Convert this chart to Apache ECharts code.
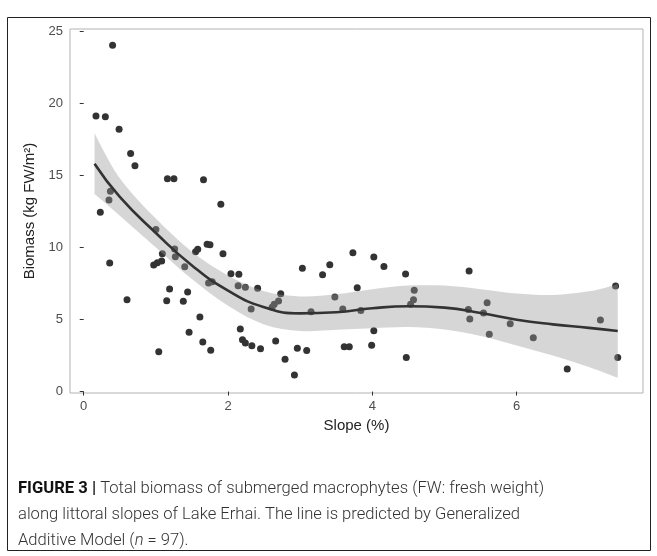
<!DOCTYPE html>
<html>
<head>
<meta charset="utf-8">
<script src="https://cdn.jsdelivr.net/npm/echarts@6/dist/echarts.min.js"></script>
<style>
  html, body { margin: 0; padding: 0; background: #fff; }
  #chart { width: 657px; height: 556px; }
</style>
</head>
<body>
<div id="chart"></div>
<script>
// observed points (slope %, biomass kg FW/m2)
const slope = [
  0.17, 0.30, 0.40, 0.49, 0.65, 0.71, 1.16, 1.25, 1.66, 1.90,
  0.37, 0.35, 0.23, 1.00, 1.09, 0.36, 0.97, 1.02, 1.08, 1.19,
  0.60, 1.15, 1.04, 1.26, 1.27, 1.40, 1.55, 1.58, 1.71, 1.75,
  1.93, 1.73, 1.78, 2.04, 2.15, 2.14, 2.24, 2.41, 1.44, 1.38,
  2.32, 1.61, 1.46, 2.17, 1.65, 2.20, 2.24, 2.33, 2.45, 1.76,
  2.73, 2.70, 2.64, 2.61, 3.03, 3.31, 3.41, 3.73, 3.79, 3.48,
  3.15, 3.59, 2.66, 2.96, 3.09, 2.79, 2.92, 3.61, 3.68, 4.02,
  4.16, 4.46, 4.58, 4.57, 4.53, 3.84, 4.02, 3.99, 4.47, 5.34,
  5.59, 5.33, 5.54, 5.35, 5.91, 5.62, 6.23, 7.37, 7.16, 7.40,
  6.70
];
const biomass = [
  19.11, 19.06, 24.03, 18.19, 16.52, 15.66, 14.76, 14.76, 14.69, 12.99,
  13.89, 13.28, 12.43, 11.25, 9.56, 8.91, 8.78, 8.94, 9.05, 7.11,
  6.37, 6.30, 2.77, 9.89, 9.35, 8.66, 9.70, 9.87, 10.21, 10.19,
  9.56, 7.53, 7.62, 8.18, 8.13, 7.34, 7.23, 7.16, 6.90, 6.26,
  5.73, 5.17, 4.11, 4.34, 3.44, 3.60, 3.37, 3.18, 2.97, 2.86,
  6.79, 6.28, 6.05, 5.84, 8.55, 8.10, 8.80, 9.63, 7.20, 6.56,
  5.54, 5.73, 3.51, 3.00, 2.84, 2.24, 1.15, 3.11, 3.11, 9.33,
  8.68, 8.15, 7.02, 6.37, 6.05, 5.63, 4.22, 3.21, 2.37, 8.36,
  6.16, 5.70, 5.45, 5.03, 4.71, 3.97, 3.74, 7.32, 4.96, 2.37,
  1.56
];

// GAM fit and confidence band
const fitSlope = [0.15, 0.5, 1.0, 1.5, 2.0, 2.5, 3.0, 3.5, 4.0, 4.5, 5.0, 5.5, 6.0, 6.5, 7.0, 7.4];
const fitBiomass = [15.8, 13.5, 11.0, 8.75, 7.0, 5.85, 5.42, 5.5, 5.78, 5.92, 5.82, 5.45, 4.98, 4.66, 4.42, 4.2];
const fitUpper = [17.9, 14.8, 12.0, 9.7, 8.05, 6.95, 6.6, 6.75, 7.1, 7.35, 7.35, 7.1, 6.8, 6.7, 6.95, 7.45];
const fitLower = [13.7, 12.2, 10.0, 7.8, 5.95, 4.65, 4.2, 4.28, 4.4, 4.48, 4.3, 3.85, 3.2, 2.5, 1.7, 0.95];

const xTicks = [0, 2, 4, 6];
const yTicks = [0, 5, 10, 15, 20, 25];

const chart = echarts.init(document.getElementById("chart"));

const labelStyle = { color: "#4d4d4d", fontSize: 13, fontFamily: "Liberation Sans" };
const tickStyle = { show: true, length: 4, lineStyle: { color: "#333", width: 1 } };

// bezier segments through pixel points (catmull-rom style)
function smoothSegs(pts) {
  let d = "";
  const n = pts.length;
  for (let i = 0; i < n - 1; i++) {
    const p0 = pts[Math.max(i - 1, 0)];
    const p1 = pts[i];
    const p2 = pts[i + 1];
    const p3 = pts[Math.min(i + 2, n - 1)];
    const c1 = [p1[0] + (p2[0] - p0[0]) / 6, p1[1] + (p2[1] - p0[1]) / 6];
    const c2 = [p2[0] - (p3[0] - p1[0]) / 6, p2[1] - (p3[1] - p1[1]) / 6];
    d += " C" + c1.join(" ") + " " + c2.join(" ") + " " + p2.join(" ");
  }
  return d;
}

const option = {
  backgroundColor: "#fff",
  animation: false,
  grid: {
    left: 70,
    right: 14,
    top: 29,
    bottom: 163,
    show: true,
    borderColor: "#b3b3b3",
    borderWidth: 1,
  },
  xAxis: {
    type: "value",
    min: -0.19,
    max: 7.75,
    name: "Slope (%)",
    nameLocation: "middle",
    nameGap: 14,
    nameTextStyle: { color: "#222", fontSize: 15, fontFamily: "Liberation Sans" },
    axisLine: { show: false },
    axisTick: { ...tickStyle, customValues: xTicks },
    axisLabel: { ...labelStyle, margin: 7, customValues: xTicks },
    splitLine: { show: false },
  },
  yAxis: {
    type: "value",
    min: -0.1,
    max: 25.15,
    name: "Biomass (kg FW/m²)",
    nameLocation: "middle",
    nameGap: 28,
    nameTextStyle: { color: "#222", fontSize: 15, fontFamily: "Liberation Sans" },
    axisLine: { show: false },
    axisTick: { ...tickStyle, customValues: yTicks },
    axisLabel: { ...labelStyle, margin: 7, customValues: yTicks },
    splitLine: { show: false },
  },
  series: [
    {
      type: "scatter",
      z: 2,
      symbolSize: 7,
      itemStyle: { color: "#333", opacity: 1 },
      data: slope.map((x, i) => [x, biomass[i]]),
    },
    {
      type: "custom",
      z: 3,
      silent: true,
      data: [[fitSlope[0], fitBiomass[0]]],
      renderItem: (params, api) => {
        const up = fitSlope.map((x, i) => api.coord([x, fitUpper[i]]));
        const lo = fitSlope.map((x, i) => api.coord([x, fitLower[i]])).reverse();
        const pathData =
          "M" + up[0].join(" ") + smoothSegs(up) +
          " L" + lo[0].join(" ") + smoothSegs(lo) + " Z";
        return {
          type: "path",
          shape: { pathData },
          style: { fill: "#999", opacity: 0.4 },
        };
      },
    },
    {
      type: "line",
      z: 4,
      smooth: true,
      symbol: "none",
      lineStyle: { color: "#333", width: 2.6 },
      data: fitSlope.map((x, i) => [x, fitBiomass[i]]),
    },
  ],
  graphic: [
    {
      type: "rect",
      shape: { x: 7.5, y: 17.5, width: 643, height: 533 },
      style: { fill: "none", stroke: "#222", lineWidth: 1 },
      silent: true,
    },
    {
      type: "text",
      left: 18,
      top: 476,
      style: {
        text:
          "{b|FIGURE 3 |} Total biomass of submerged macrophytes (FW: fresh weight)\n" +
          "along littoral slopes of Lake Erhai. The line is predicted by Generalized\n" +
          "Additive Model ({i|n} = 97).",
        fill: "#333",
        fontSize: 16.6,
        fontWeight: 300,
        fontFamily: "Roboto",
        lineHeight: 26,
        rich: {
          b: { fontWeight: "bold", fill: "#111", fontSize: 16.6, fontFamily: "Roboto" },
          i: { fontStyle: "italic", fontWeight: 300, fill: "#333", fontSize: 16.6, fontFamily: "Roboto" },
        },
      },
    },
  ],
};

chart.setOption(option);
</script>
</body>
</html>
